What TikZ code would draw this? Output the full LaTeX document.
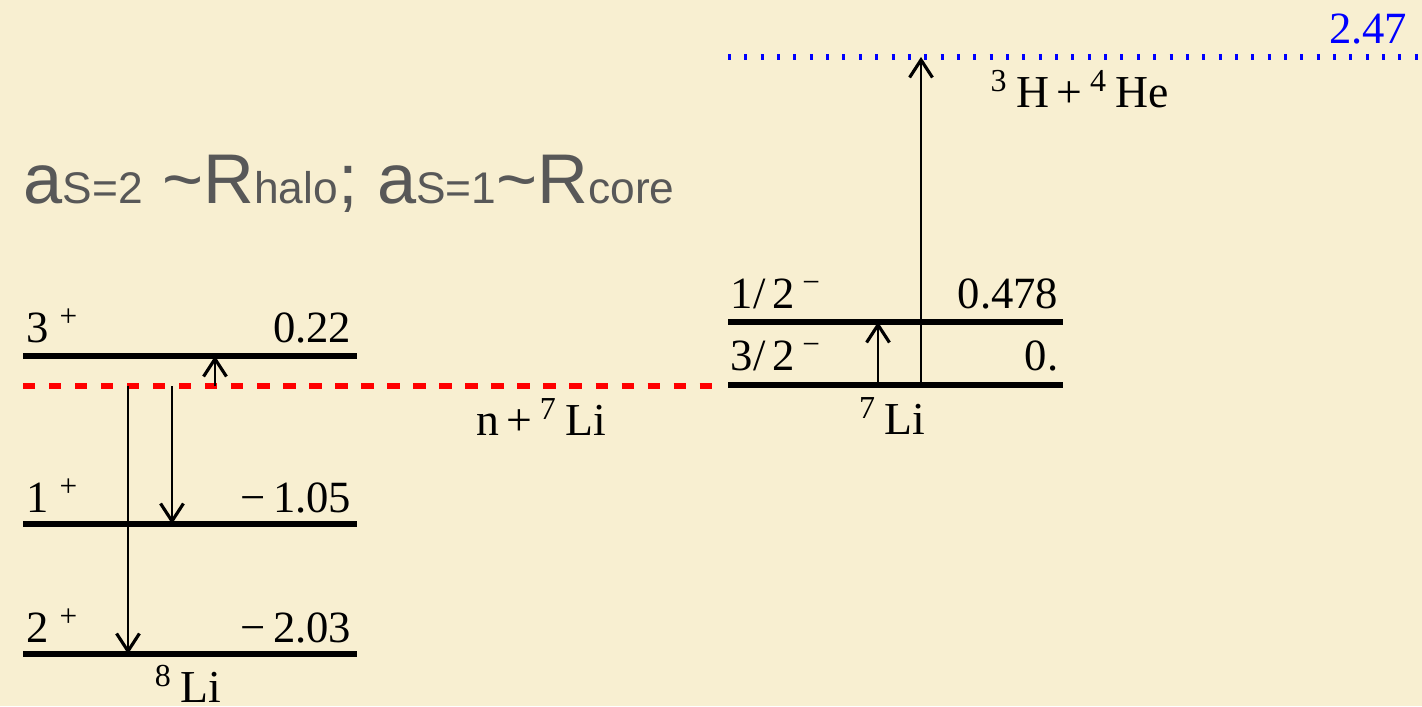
\documentclass[tikz,border=0pt]{standalone}
\usepackage{fontspec}
\setmainfont{Liberation Serif}
\newfontfamily\slidesans{Liberation Sans}
\usepackage{xcolor}
\usetikzlibrary{positioning, arrows.meta}
\definecolor{paper}{HTML}{F8EFD1}
\definecolor{slidegray}{HTML}{585858}

\tikzset{
  level/.style={line width=1.45pt},
  thres/.style={line width=1.45pt, red, dash pattern=on 3.5pt off 3.9pt},
  chan/.style={line width=1.45pt, blue, dash pattern=on 0.85pt off 3.8pt},
  trans/.style={line width=0.7pt, -{Straight Barb[length=5pt,width=6.5pt,line width=0.9pt]}},
  num/.style={inner sep=0pt, font=\fontsize{12.7}{15}\selectfont},
  nucl/.style={inner sep=0pt, font=\fontsize{13}{15}\selectfont},
  headline/.style={inner sep=0pt, text=slidegray, font=\slidesans\fontsize{20}{24}\selectfont},
}
\newcommand{\subsz}{\fontsize{12.6}{15}\selectfont}

\begin{document}
\begin{tikzpicture}[x=0.01cm, y=-0.01cm]
  \fill[paper] (0,0) rectangle (1422,706);
  \useasboundingbox (0,0) rectangle (1422,706);

  % scattering lengths
  \node[headline, anchor=base west] (scat) at (23,203)
    {a{\subsz S=2} \textasciitilde R{\subsz halo}; a{\subsz S=1}\textasciitilde R{\subsz core}};

  % 8Li levels
  \foreach \lv/\y in {l3/356, l1/524, l2/654} {
    \coordinate (\lv w) at (23,\y);
    \coordinate (\lv e) at (357,\y);
    \draw[level] (\lv w) -- (\lv e);
  }
  \node[num, anchor=base west] (j3) at (26,342) {3\kern3pt\textsuperscript{+}};
  \node[num, anchor=base east] (e3) at (352,342) {0.22};
  \node[num, anchor=base west] (j1) at (26,512) {1\kern3pt\textsuperscript{+}};
  \node[num, anchor=base east] (e1) at (352,512) {−\,1.05};
  \node[num, anchor=base west] (j2) at (26,642) {2\kern3pt\textsuperscript{+}};
  \node[num, anchor=base east] (e2) at (352,642) {−\,2.03};
  \node[nucl, anchor=base] (li8) at (188,702) {\textsuperscript{8}\,Li};

  % n + 7Li threshold
  \coordinate (thw) at (23,386);
  \coordinate (the) at (712,386);
  \draw[thres] (thw) -- (the);
  \node[nucl, anchor=base] (nli) at (541,435) {n\,+\,\textsuperscript{7}\,Li};

  \coordinate (t1) at (215,386);
  \coordinate (t2) at (128,386);
  \coordinate (t3) at (172,386);
  \draw[trans] (t1) -- (t1 |- l3w);
  \draw[trans] (t2) -- (t2 |- l2w);
  \draw[trans] (t3) -- (t3 |- l1w);

  % 7Li levels
  \foreach \lv/\y in {g0/385, g1/322} {
    \coordinate (\lv w) at (728,\y);
    \coordinate (\lv e) at (1063,\y);
    \draw[level] (\lv w) -- (\lv e);
  }
  \node[num, anchor=base west] (k1) at (730,308) {1/\,2\kern2pt\textsuperscript{−}};
  \node[num, anchor=base east] (f1) at (1059,308) {0.478};
  \node[num, anchor=base west] (k0) at (730,370) {3/\,2\kern2pt\textsuperscript{−}};
  \node[num, anchor=base east] (f0) at (1059,370) {0.};
  \node[nucl, anchor=base] (li7) at (892,434) {\textsuperscript{7}\,Li};

  % 3H + 4He channel
  \coordinate (bw) at (728,57);
  \coordinate (be) at (1422,57);
  \draw[chan] (bw) -- (be);
  \node[num, blue, anchor=base east] (eb) at (1408,43) {2.47};
  \node[nucl, anchor=base west] (hhe) at (990,107)
    {\textsuperscript{3}\,H\,+\,\textsuperscript{4}\,He};

  \coordinate (s1) at (878,385);
  \coordinate (s2) at (921,385);
  \draw[trans] (s1) -- (s1 |- g1w);
  \draw[trans] (s2) -- (s2 |- bw);
\end{tikzpicture}
\end{document}
